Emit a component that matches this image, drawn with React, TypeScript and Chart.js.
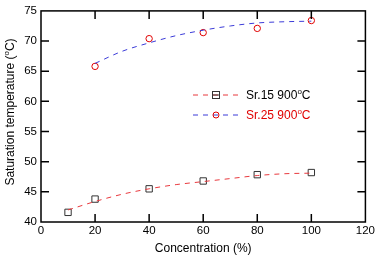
import React, { useEffect, useRef } from "react";
import { Chart, registerables } from "chart.js";
Chart.register(...registerables);

const sr15X = [10, 20, 40, 60, 80, 100];
const sr15Y = [41.6, 43.8, 45.5, 46.8, 47.85, 48.2];
const sr25X = [20, 40, 60, 80, 100];
const sr25Y = [65.8, 70.4, 71.4, 72.1, 73.4];
const fit15X = [10, 20, 30, 40, 50, 60, 70, 80, 90, 100];
const fit15Y = [42.0, 43.4, 44.6, 45.5, 46.2, 46.7, 47.2, 47.7, 48.0, 48.1];
const fit25X = [20, 30, 40, 50, 60, 70, 80, 90, 100];
const fit25Y = [66.3, 68.3, 69.7, 70.9, 71.8, 72.5, 73.0, 73.2, 73.3];
const legendLabels = ["Sr.15 900", "Sr.25 900"];

const FONT = "'Liberation Sans', Arial, Helvetica, sans-serif";

const pts = (xs: number[], ys: number[]) => xs.map((x, i) => ({ x, y: ys[i] }));

const framePlugin = {
  id: "frame",
  afterDraw(chart: any) {
    const { ctx, chartArea: a, scales } = chart;
    const xs = scales.x, ys = scales.y;
    ctx.save();
    ctx.strokeStyle = "#000";
    ctx.lineWidth = 1.5;
    ctx.strokeRect(a.left, a.top, a.right - a.left, a.bottom - a.top);
    const L = 8;
    ctx.beginPath();
    xs.ticks.forEach((t: any) => {
      const px = xs.getPixelForValue(t.value);
      if (px <= a.left + 1 || px >= a.right - 1) return;
      ctx.moveTo(px, a.bottom); ctx.lineTo(px, a.bottom - L);
      ctx.moveTo(px, a.top); ctx.lineTo(px, a.top + L);
    });
    ys.ticks.forEach((t: any) => {
      const py = ys.getPixelForValue(t.value);
      if (py <= a.top + 1 || py >= a.bottom - 1) return;
      ctx.moveTo(a.left, py); ctx.lineTo(a.left + L, py);
      ctx.moveTo(a.right, py); ctx.lineTo(a.right - L, py);
    });
    ctx.stroke();

    // y title with superscript o
    ctx.fillStyle = "#000";
    const main = "Saturation temperature (";
    const sup = "o";
    const end = "C)";
    ctx.save();
    ctx.translate(11, 112);
    ctx.rotate(-Math.PI / 2);
    ctx.font = `12px ${FONT}`;
    const w1 = ctx.measureText(main).width;
    ctx.font = `8px ${FONT}`;
    const w2 = ctx.measureText(sup).width;
    ctx.font = `12px ${FONT}`;
    const w3 = ctx.measureText(end).width;
    const total = w1 + w2 + w3;
    const x0 = -total / 2;
    ctx.textBaseline = "middle";
    ctx.textAlign = "left";
    ctx.fillText(main, x0, 0);
    ctx.font = `8px ${FONT}`;
    ctx.fillText(sup, x0 + w1, -4);
    ctx.font = `12px ${FONT}`;
    ctx.fillText(end, x0 + w1 + w2, 0);
    ctx.restore();

    // legend
    const rows = [
      { y: 95, line: "#e8383d", text: "#000", marker: "square" },
      { y: 115, line: "#3b3bd8", text: "#e00000", marker: "circle" },
    ];
    rows.forEach((r, i) => {
      ctx.save();
      ctx.strokeStyle = r.line;
      ctx.lineWidth = 1;
      ctx.setLineDash([5, 5]);
      ctx.beginPath();
      ctx.moveTo(193, r.y);
      ctx.lineTo(241, r.y);
      ctx.stroke();
      ctx.setLineDash([]);
      if (r.marker === "square") {
        ctx.strokeStyle = "#333";
        ctx.beginPath();
        ctx.moveTo(212.5, r.y);
        ctx.lineTo(219.5, r.y);
        ctx.stroke();
        ctx.strokeRect(212.5, r.y - 3.5, 7, 7);
      } else {
        ctx.beginPath();
        ctx.arc(216, r.y, 3, 0, Math.PI * 2);
        ctx.strokeStyle = "#e00000";
        ctx.stroke();
      }
      ctx.fillStyle = r.text;
      ctx.font = `12px ${FONT}`;
      ctx.textBaseline = "middle";
      ctx.textAlign = "left";
      const t = legendLabels[i];
      ctx.fillText(t, 246, r.y + 1);
      const tw = ctx.measureText(t).width;
      ctx.font = `8px ${FONT}`;
      ctx.fillText("o", 246 + tw, r.y - 3);
      const ow = ctx.measureText("o").width;
      ctx.font = `12px ${FONT}`;
      ctx.fillText("C", 246 + tw + ow, r.y + 1);
      ctx.restore();
    });
    ctx.restore();
  },
};

export default function App() {
  const ref = useRef<HTMLCanvasElement | null>(null);
  useEffect(() => {
    document.body.style.margin = "0";
    const chart = new Chart(ref.current as HTMLCanvasElement, {
      type: "scatter",
      data: {
        datasets: [
          {
            data: pts(fit15X, fit15Y),
            showLine: true,
            borderColor: "#e8383d",
            borderWidth: 1,
            borderDash: [5, 5],
            pointRadius: 0,
            cubicInterpolationMode: "monotone",
          },
          {
            data: pts(fit25X, fit25Y),
            showLine: true,
            borderColor: "#3b3bd8",
            borderWidth: 1,
            borderDash: [5, 5],
            pointRadius: 0,
            cubicInterpolationMode: "monotone",
          },
          {
            data: pts(sr15X, sr15Y),
            showLine: false,
            pointStyle: "rect",
            pointRadius: 4.5,
            borderColor: "#333",
            backgroundColor: "rgba(255,255,255,0)",
            borderWidth: 1,
          },
          {
            data: pts(sr25X, sr25Y),
            showLine: false,
            pointStyle: "circle",
            pointRadius: 3.2,
            borderColor: "#e00000",
            backgroundColor: "rgba(255,255,255,0)",
            borderWidth: 1,
          },
        ],
      } as any,
      options: {
        animation: false,
        responsive: false,
        layout: { padding: { left: 0, right: 9, top: 5, bottom: 0 } },
        plugins: { legend: { display: false }, tooltip: { enabled: false } },
        scales: {
          x: {
            type: "linear",
            min: 0,
            max: 120,
            ticks: { stepSize: 20, color: "#000", font: { family: FONT, size: 11.5 }, padding: 2 },
            grid: { display: false, drawTicks: false },
            border: { display: false },
            title: { display: true, text: "Concentration (%)", color: "#000", font: { family: FONT, size: 12 }, padding: { top: 3, bottom: 0 } },
            afterFit: (s: any) => { s.height = 34; },
          },
          y: {
            min: 40,
            max: 75,
            ticks: { stepSize: 5, color: "#000", font: { family: FONT, size: 11.5 }, padding: 4 },
            grid: { display: false, drawTicks: false },
            border: { display: false },
            afterFit: (s: any) => { s.width = 41; },
          },
        },
      } as any,
      plugins: [framePlugin],
    });
    return () => chart.destroy();
  }, []);
  return (
    <div style={{ width: 377, height: 256 }}>
      <canvas ref={ref} width={377} height={256} style={{ display: "block" }} />
    </div>
  );
}
